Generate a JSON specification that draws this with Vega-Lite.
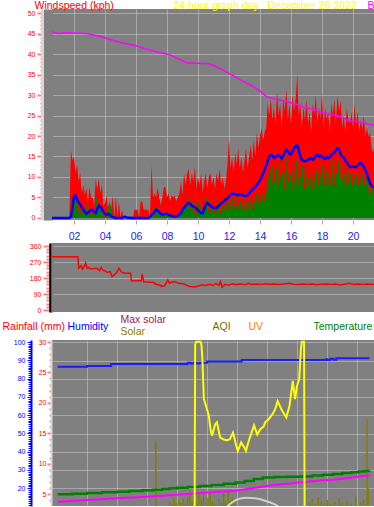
{
  "$schema": "https://vega.github.io/schema/vega-lite/v6.json",
  "padding": 0,
  "background": "#ffffff",
  "columns": 1,
  "align": "none",
  "spacing": 0,
  "config": {
    "view": {"fill": "#808080", "stroke": null},
    "font": "Liberation Sans",
    "axis": {"labelFont": "Liberation Sans", "titleFont": "Liberation Sans", "titleFontWeight": "normal", "labelFontSize": 7, "titleFontSize": 10.5, "gridDash": [1, 1], "gridColor": "#d0d0d0", "gridWidth": 1, "labelFlush": false, "labelOverlap": false, "labelBound": false}
  },
  "datasets": {
    "wind": [
      {"h":0.1,"g":0,"s":0,"a":0},{"h":1.7,"g":0,"s":0,"a":0},
      {"h":1.8,"g":16.5,"s":0,"a":0.3},{"h":1.9,"g":14,"s":5,"a":2.5},{"h":2.0,"g":15,"s":5,"a":5.2},{"h":2.1,"g":11,"s":4,"a":5.5},{"h":2.2,"g":13,"s":2,"a":4.5},{"h":2.3,"g":9,"s":1,"a":3.8},{"h":2.4,"g":11,"s":2,"a":3.3},{"h":2.5,"g":6,"s":1,"a":2.6},{"h":2.6,"g":8,"s":1,"a":2},{"h":2.7,"g":5.5,"s":3,"a":1.4},{"h":2.8,"g":7.5,"s":3,"a":1},{"h":2.9,"g":4,"s":1,"a":1.3},
      {"h":3.0,"g":7.5,"s":1,"a":1.6},{"h":3.1,"g":5,"s":0.5,"a":2},{"h":3.2,"g":5,"s":1,"a":2},{"h":3.3,"g":3,"s":1,"a":1.4},{"h":3.4,"g":9.5,"s":5,"a":1.2},{"h":3.5,"g":7,"s":3,"a":2.2},{"h":3.6,"g":9.5,"s":2,"a":3},{"h":3.7,"g":6,"s":2,"a":2.8},{"h":3.8,"g":8,"s":1,"a":2.2},{"h":3.9,"g":3,"s":0,"a":1.5},
      {"h":4.0,"g":3.5,"s":0.5,"a":1},{"h":4.1,"g":5.5,"s":1,"a":0.8},{"h":4.2,"g":2,"s":3,"a":1},{"h":4.3,"g":4,"s":3,"a":0.8},{"h":4.4,"g":2,"s":1,"a":0.4},{"h":4.5,"g":5.5,"s":0,"a":0.2},{"h":4.6,"g":0,"s":0,"a":0.1},{"h":4.7,"g":5.5,"s":0,"a":0},{"h":4.8,"g":0,"s":0,"a":0},{"h":4.9,"g":4,"s":0,"a":0},
      {"h":5.0,"g":0,"s":0,"a":0},{"h":5.1,"g":2,"s":0,"a":0},{"h":5.2,"g":0,"s":0,"a":0.2},{"h":5.3,"g":0,"s":0,"a":0.3},{"h":5.4,"g":0,"s":0,"a":0.1},{"h":5.8,"g":0,"s":0,"a":0},{"h":5.9,"g":2,"s":0,"a":0},{"h":6.1,"g":2,"s":0,"a":0},{"h":6.2,"g":0,"s":0,"a":0},{"h":6.3,"g":4,"s":0,"a":0},{"h":6.4,"g":4,"s":0,"a":0},{"h":6.5,"g":2,"s":0,"a":0},{"h":6.8,"g":2,"s":0,"a":0},{"h":6.9,"g":0,"s":0,"a":0.2},
      {"h":7.0,"g":13,"s":1,"a":0.8},{"h":7.1,"g":5,"s":0.5,"a":1},{"h":7.2,"g":6,"s":2.5,"a":1.5},{"h":7.3,"g":5,"s":2.5,"a":2},{"h":7.4,"g":7.5,"s":1,"a":1.8},{"h":7.5,"g":5,"s":0.5,"a":1.4},{"h":7.6,"g":3,"s":0.5,"a":1},{"h":7.7,"g":5,"s":1,"a":0.8},{"h":7.8,"g":7.5,"s":1,"a":0.9},{"h":7.9,"g":7.5,"s":0.5,"a":1},
      {"h":8.0,"g":5,"s":1,"a":1},{"h":8.1,"g":6,"s":0.5,"a":0.8},{"h":8.2,"g":4,"s":0.5,"a":0.6},{"h":8.3,"g":5.5,"s":0.5,"a":0.5},{"h":8.4,"g":5,"s":0,"a":0.4},{"h":8.5,"g":5.5,"s":0.5,"a":0.3},{"h":8.6,"g":4,"s":0.5,"a":0.4},{"h":8.7,"g":5,"s":1,"a":0.6},{"h":8.8,"g":6,"s":1,"a":0.9},{"h":8.9,"g":9,"s":2,"a":1.2},
      {"h":9.0,"g":5.5,"s":3,"a":2},{"h":9.1,"g":11,"s":2,"a":2.5},{"h":9.2,"g":8,"s":3,"a":3},{"h":9.3,"g":11,"s":5,"a":3.5},{"h":9.4,"g":12,"s":3,"a":3.6},{"h":9.5,"g":8,"s":2,"a":3.4},{"h":9.6,"g":11,"s":4,"a":3},{"h":9.7,"g":9,"s":1,"a":2.8},{"h":9.8,"g":12.5,"s":3,"a":2.6},{"h":9.9,"g":7,"s":1,"a":2.3},
      {"h":10.0,"g":10,"s":4,"a":1.9},{"h":10.1,"g":8,"s":2,"a":1.5},{"h":10.2,"g":11,"s":1,"a":1.2},{"h":10.3,"g":6,"s":3,"a":1.1},{"h":10.4,"g":9,"s":2,"a":2.2},{"h":10.5,"g":11,"s":5,"a":3.2},{"h":10.6,"g":7,"s":2,"a":3.6},{"h":10.7,"g":10,"s":1,"a":3.3},{"h":10.8,"g":11,"s":4,"a":3},{"h":10.9,"g":8,"s":2,"a":2.7},
      {"h":11.0,"g":10,"s":1,"a":2.5},{"h":11.1,"g":7,"s":3,"a":2.4},{"h":11.2,"g":11,"s":2,"a":2.4},{"h":11.3,"g":9,"s":4,"a":2.8},{"h":11.4,"g":12,"s":1,"a":3.2},{"h":11.5,"g":8,"s":3,"a":3.5},{"h":11.6,"g":10,"s":2,"a":3.8},{"h":11.7,"g":7,"s":5,"a":4.2},{"h":11.8,"g":9,"s":2,"a":4.5},{"h":11.9,"g":13,"s":4,"a":4.8},
      {"h":12.0,"g":19.5,"s":3,"a":5.2},{"h":12.1,"g":12,"s":2,"a":5.6},{"h":12.2,"g":15,"s":5,"a":5.9},{"h":12.3,"g":11,"s":3,"a":6},{"h":12.4,"g":16,"s":2,"a":5.8},{"h":12.5,"g":13,"s":6,"a":5.6},{"h":12.6,"g":17,"s":3,"a":5.6},{"h":12.7,"g":12,"s":4,"a":5.8},{"h":12.8,"g":15,"s":2,"a":5.7},{"h":12.9,"g":11,"s":5,"a":5.5},
      {"h":13.0,"g":14,"s":3,"a":5.4},{"h":13.1,"g":17,"s":2,"a":5.4},{"h":13.2,"g":12,"s":4,"a":5.5},{"h":13.3,"g":15,"s":3,"a":6},{"h":13.4,"g":18,"s":5,"a":6.5},{"h":13.5,"g":14,"s":2,"a":6.8},{"h":13.6,"g":19,"s":4,"a":7.2},{"h":13.7,"g":15,"s":6,"a":7.6},{"h":13.8,"g":21,"s":3,"a":8.1},{"h":13.9,"g":17,"s":5,"a":8.6},
      {"h":14.0,"g":20,"s":4,"a":9.2},{"h":14.1,"g":22,"s":6,"a":10},{"h":14.2,"g":19,"s":4,"a":10.9},{"h":14.3,"g":21,"s":5,"a":11.8},{"h":14.4,"g":22,"s":7,"a":12.8},{"h":14.5,"g":28,"s":10,"a":14},{"h":14.6,"g":25,"s":12,"a":15},{"h":14.7,"g":29,"s":8,"a":15.4},{"h":14.8,"g":24,"s":13,"a":15.2},{"h":14.9,"g":27,"s":9,"a":14.6},
      {"h":15.0,"g":23,"s":12,"a":14.8},{"h":15.1,"g":31,"s":8,"a":15.2},{"h":15.2,"g":25,"s":14,"a":15.4},{"h":15.3,"g":28,"s":10,"a":15},{"h":15.4,"g":22,"s":11,"a":14.5},{"h":15.5,"g":29,"s":7,"a":15.2},{"h":15.6,"g":26,"s":12,"a":16},{"h":15.7,"g":31.5,"s":15,"a":16.6},{"h":15.8,"g":24,"s":9,"a":16.3},{"h":15.9,"g":28,"s":11,"a":15.6},
      {"h":16.0,"g":23,"s":7,"a":15.5},{"h":16.1,"g":30,"s":12,"a":16.2},{"h":16.2,"g":26,"s":9,"a":17},{"h":16.3,"g":29,"s":14,"a":17.6},{"h":16.4,"g":35,"s":8,"a":17.8},{"h":16.5,"g":25,"s":11,"a":16.5},{"h":16.6,"g":28,"s":10,"a":15},{"h":16.7,"g":22,"s":13,"a":14.2},{"h":16.8,"g":27,"s":7,"a":14},{"h":16.9,"g":24,"s":10,"a":13.8},
      {"h":17.0,"g":29,"s":12,"a":14},{"h":17.1,"g":23,"s":8,"a":14.2},{"h":17.2,"g":26,"s":10,"a":14.4},{"h":17.3,"g":21,"s":7,"a":14.6},{"h":17.4,"g":28,"s":11,"a":14.2},{"h":17.5,"g":25,"s":9,"a":14.6},{"h":17.6,"g":30,"s":12,"a":15.2},{"h":17.7,"g":23,"s":8,"a":15.4},{"h":17.8,"g":27,"s":11,"a":15},{"h":17.9,"g":24,"s":10,"a":15.2},
      {"h":18.0,"g":30.5,"s":13,"a":15},{"h":18.1,"g":22,"s":8,"a":14.6},{"h":18.2,"g":27,"s":12,"a":14.4},{"h":18.3,"g":24,"s":9,"a":14.8},{"h":18.4,"g":26,"s":11,"a":14.6},{"h":18.5,"g":21,"s":8,"a":14.8},{"h":18.6,"g":28,"s":14,"a":15.4},{"h":18.7,"g":25,"s":10,"a":15.6},{"h":18.8,"g":29,"s":8,"a":16},{"h":18.9,"g":23,"s":11,"a":16.6},
      {"h":19.0,"g":30,"s":14,"a":17},{"h":19.1,"g":26,"s":10,"a":16.8},{"h":19.2,"g":28.8,"s":13,"a":15.6},{"h":19.3,"g":22,"s":9,"a":15},{"h":19.4,"g":25,"s":11,"a":14.8},{"h":19.5,"g":21,"s":8,"a":14},{"h":19.6,"g":27,"s":12,"a":13.6},{"h":19.7,"g":24,"s":9,"a":13},{"h":19.8,"g":23,"s":11,"a":12.5},{"h":19.9,"g":26,"s":8,"a":12.4},
      {"h":20.0,"g":22,"s":10,"a":12.6},{"h":20.1,"g":28,"s":9,"a":12.5},{"h":20.2,"g":23,"s":11,"a":12.4},{"h":20.3,"g":26,"s":8,"a":12.8},{"h":20.4,"g":21,"s":10,"a":13.2},{"h":20.5,"g":24,"s":9,"a":13.4},{"h":20.6,"g":21.5,"s":11,"a":13.2},{"h":20.7,"g":25,"s":8,"a":12.5},{"h":20.8,"g":20,"s":10,"a":11.6},{"h":20.9,"g":22,"s":7,"a":10.8},
      {"h":21.0,"g":19.8,"s":9,"a":9.5},{"h":21.1,"g":21,"s":6,"a":8.5},{"h":21.2,"g":17,"s":8,"a":7.8},{"h":21.3,"g":16,"s":6,"a":7.6},{"h":21.4,"g":18,"s":5,"a":7.5}
    ],
    "baro": [
      {"h":0.1,"b":45.8},{"h":1.0,"b":45.0},{"h":1.5,"b":45.2},{"h":2.8,"b":45.0},{"h":3.7,"b":44.3},{"h":4.3,"b":43.6},{"h":5.0,"b":42.8},{"h":5.8,"b":42.2},{"h":6.5,"b":41.4},{"h":7.5,"b":40.4},{"h":8.2,"b":39.8},{"h":8.8,"b":38.7},{"h":9.3,"b":37.8},{"h":10.6,"b":37.7},{"h":11.0,"b":37.2},{"h":11.4,"b":36.5},{"h":12.0,"b":35.3},{"h":12.6,"b":34.0},{"h":13.2,"b":32.8},{"h":13.6,"b":32.0},{"h":14.0,"b":31.0},{"h":14.45,"b":29.5},{"h":15.0,"b":29.0},{"h":15.7,"b":28.4},{"h":16.3,"b":27.8},{"h":16.8,"b":27.1},{"h":17.3,"b":26.6},{"h":17.8,"b":26.0},{"h":18.3,"b":25.5},{"h":18.9,"b":25.0},{"h":19.3,"b":24.6},{"h":19.6,"b":23.9},{"h":20.3,"b":23.5},{"h":20.9,"b":23.0},{"h":21.4,"b":22.6}
    ],
    "dir": [
      {"h":0.1,"d":300},{"h":1.8,"d":300},{"h":1.85,"d":235},{"h":2.0,"d":250},{"h":2.1,"d":230},{"h":2.2,"d":245},{"h":2.3,"d":265},{"h":2.4,"d":235},{"h":2.5,"d":240},{"h":2.6,"d":231},{"h":3.0,"d":235},{"h":3.2,"d":222},{"h":3.3,"d":240},{"h":3.4,"d":225},{"h":3.7,"d":212},{"h":3.9,"d":215},{"h":4.0,"d":188},{"h":4.1,"d":195},{"h":4.3,"d":210},{"h":4.45,"d":235},{"h":4.6,"d":215},{"h":4.8,"d":207},{"h":5.2,"d":207},{"h":5.25,"d":165},{"h":5.9,"d":165},{"h":5.95,"d":203},{"h":6.05,"d":159},{"h":6.7,"d":155},{"h":6.8,"d":146},{"h":7.1,"d":140},{"h":7.2,"d":133},{"h":7.4,"d":136},{"h":7.6,"d":170},{"h":7.7,"d":152},{"h":8.0,"d":160},{"h":8.3,"d":150},{"h":8.6,"d":148},{"h":8.8,"d":140},{"h":9.0,"d":133},{"h":9.3,"d":130},{"h":9.6,"d":135},{"h":9.8,"d":142},{"h":10.0,"d":138},{"h":10.3,"d":145},{"h":10.5,"d":138},{"h":10.7,"d":148},{"h":10.9,"d":140},{"h":11.0,"d":160},{"h":11.1,"d":128},{"h":11.3,"d":145},{"h":11.5,"d":140},{"h":11.8,"d":148},{"h":12.0,"d":143},{"h":12.3,"d":146},{"h":12.6,"d":142},{"h":12.8,"d":150},{"h":13.0,"d":144},{"h":13.3,"d":146},{"h":13.6,"d":143},{"h":13.9,"d":148},{"h":14.2,"d":145},{"h":14.5,"d":147},{"h":14.8,"d":143},{"h":15.1,"d":146},{"h":15.4,"d":150},{"h":15.7,"d":145},{"h":16.0,"d":143},{"h":16.3,"d":147},{"h":16.6,"d":144},{"h":16.9,"d":146},{"h":17.2,"d":142},{"h":17.5,"d":145},{"h":17.8,"d":147},{"h":18.1,"d":143},{"h":18.4,"d":146},{"h":18.7,"d":141},{"h":19.0,"d":145},{"h":19.3,"d":150},{"h":19.6,"d":144},{"h":19.9,"d":146},{"h":20.2,"d":143},{"h":20.5,"d":147},{"h":20.8,"d":144},{"h":21.0,"d":145}
    ],
    "hum": [
      {"h":0.05,"v":86.4},{"h":2.0,"v":86.9},{"h":3.6,"v":88.0},{"h":8.7,"v":88.7},{"h":8.9,"v":88.3},{"h":9.1,"v":88.7},{"h":9.3,"v":88.3},{"h":9.5,"v":88.7},{"h":10.0,"v":89.3},{"h":12.3,"v":90.2},{"h":17.9,"v":90.6},{"h":18.0,"v":90.2},{"h":18.2,"v":90.8},{"h":18.4,"v":90.3},{"h":18.6,"v":91.1},{"h":20.8,"v":91.1}
    ],
    "temp": [
      {"h":0.05,"v":4.95},{"h":1.0,"v":5.05},{"h":2.0,"v":5.17},{"h":3.0,"v":5.28},{"h":4.0,"v":5.38},{"h":4.8,"v":5.5},{"h":5.7,"v":5.6},{"h":6.4,"v":5.72},{"h":7.0,"v":5.82},{"h":7.5,"v":5.93},{"h":8.0,"v":6.04},{"h":8.7,"v":6.15},{"h":9.5,"v":6.3},{"h":10.3,"v":6.5},{"h":11.1,"v":6.7},{"h":11.9,"v":6.9},{"h":12.5,"v":7.15},{"h":13.1,"v":7.45},{"h":13.7,"v":7.73},{"h":14.5,"v":7.8},{"h":15.3,"v":7.85},{"h":16.2,"v":7.9},{"h":17.0,"v":8.05},{"h":17.7,"v":8.15},{"h":18.4,"v":8.28},{"h":19.0,"v":8.45},{"h":19.6,"v":8.6},{"h":20.1,"v":8.72},{"h":20.5,"v":8.8},{"h":20.8,"v":8.85}
    ],
    "dew": [
      {"h":0.05,"v":3.74},{"h":1.0,"v":3.85},{"h":2.0,"v":4.0},{"h":3.0,"v":4.15},{"h":4.0,"v":4.29},{"h":5.0,"v":4.42},{"h":5.9,"v":4.56},{"h":7.0,"v":4.72},{"h":8.0,"v":4.89},{"h":8.7,"v":5.0},{"h":9.5,"v":5.15},{"h":10.5,"v":5.35},{"h":11.9,"v":5.55},{"h":12.6,"v":5.8},{"h":13.4,"v":6.1},{"h":14.1,"v":6.37},{"h":14.9,"v":6.6},{"h":15.6,"v":6.75},{"h":16.2,"v":6.92},{"h":17.0,"v":7.1},{"h":17.7,"v":7.25},{"h":18.4,"v":7.35},{"h":19.2,"v":7.6},{"h":20.1,"v":7.9},{"h":20.8,"v":8.1}
    ],
    "uv": [
      {"h":0.05,"v":0},{"h":9.16,"v":0},{"h":9.2,"v":29.6},{"h":9.27,"v":30.05},{"h":9.55,"v":30.05},{"h":9.62,"v":29.5},{"h":9.68,"v":27.2},{"h":9.78,"v":20.6},{"h":9.99,"v":18.9},{"h":10.11,"v":17.9},{"h":10.22,"v":15.7},{"h":10.32,"v":14.6},{"h":10.54,"v":16.5},{"h":10.65,"v":16.8},{"h":10.86,"v":14.3},{"h":11.08,"v":14.0},{"h":11.29,"v":13.8},{"h":11.51,"v":14.0},{"h":11.72,"v":15.1},{"h":11.94,"v":12.9},{"h":12.04,"v":12.1},{"h":12.26,"v":13.5},{"h":12.47,"v":12.7},{"h":12.58,"v":12.1},{"h":12.8,"v":14.0},{"h":13.12,"v":16.3},{"h":13.33,"v":14.8},{"h":13.55,"v":15.7},{"h":13.76,"v":16.1},{"h":13.87,"v":16.8},{"h":14.09,"v":17.3},{"h":14.34,"v":18.1},{"h":14.52,"v":18.9},{"h":14.69,"v":20.3},{"h":14.95,"v":18.9},{"h":15.27,"v":17.6},{"h":15.48,"v":19.5},{"h":15.7,"v":23.6},{"h":15.85,"v":20.6},{"h":15.98,"v":22.8},{"h":16.13,"v":23.9},{"h":16.24,"v":28.8},{"h":16.3,"v":30.05},{"h":16.45,"v":30.05},{"h":16.49,"v":0},{"h":20.8,"v":0}
    ],
    "solar": [
      {"h":6.58,"v":13.75},{"h":7.5,"v":3.8},{"h":7.65,"v":3.3},{"h":7.8,"v":4.4},{"h":7.95,"v":3.5},{"h":8.1,"v":4.0},{"h":8.25,"v":3.6},{"h":8.4,"v":4.3},{"h":8.55,"v":3.4},{"h":8.7,"v":4.6},{"h":8.85,"v":5.5},{"h":9.0,"v":3.8},{"h":9.15,"v":4.8},{"h":9.3,"v":3.5},{"h":9.45,"v":5.0},{"h":9.6,"v":4.0},{"h":9.75,"v":5.2},{"h":9.9,"v":3.6},{"h":10.05,"v":4.4},{"h":10.2,"v":5.3},{"h":10.35,"v":3.8},{"h":10.5,"v":3.4},{"h":10.8,"v":4.2},{"h":10.95,"v":3.6},{"h":11.1,"v":5.0},{"h":11.25,"v":3.7},{"h":11.4,"v":5.6},{"h":11.55,"v":3.9},{"h":11.7,"v":4.4},{"h":11.85,"v":3.5},
      {"h":16.8,"v":3.6},{"h":17.0,"v":4.2},{"h":17.2,"v":3.4},{"h":17.4,"v":4.5},{"h":17.6,"v":3.8},{"h":17.8,"v":3.5},{"h":18.0,"v":4.0},{"h":18.2,"v":3.4},{"h":18.5,"v":3.7},{"h":18.8,"v":4.3},{"h":19.0,"v":3.5},{"h":19.3,"v":3.9},{"h":19.6,"v":3.4},{"h":19.9,"v":4.6},{"h":20.2,"v":3.6},{"h":20.4,"v":4.1},{"h":20.65,"v":17.3},{"h":20.72,"v":6.0}
    ],
    "maxsolar": [
      {"h":11.2,"v":2.6},{"h":11.5,"v":3.3},{"h":11.9,"v":4.0},{"h":12.3,"v":4.3},{"h":12.6,"v":4.4},{"h":13.2,"v":4.3},{"h":13.85,"v":3.9},{"h":14.5,"v":3.3},{"h":14.9,"v":2.7}
    ]
  },
  "concat": [
    {
      "width": 322,
      "height": 211,
      "resolve": {"axis": {"y": "independent"}},
      "encoding": {
        "x": {"field": "h", "type": "quantitative", "scale": {"domain": [0.5806, 21.355], "nice": false, "zero": false},
          "axis": {"orient": "bottom", "values": [2,4,6,8,10,12,14,16,18,20], "labelExpr": "datum.value < 10 ? '0' + datum.value : '' + datum.value", "labelColor": "#2020ff", "labelFontSize": 10.5, "labelPadding": 7, "tickColor": "#a8a8a8", "tickSize": 4, "domain": false, "grid": true,
            "title": "24 hour graph day : December 26 2022", "titleColor": "#ffff00", "titleX": 121, "titleY": -212, "titleAlign": "left", "titleBaseline": "alphabetic", "titleFontSize": 10.5}}
      },
      "layer": [
        {"data": {"name": "wind"}, "mark": {"type": "area", "color": "#ff0000", "clip": true},
          "encoding": {
            "y": {"field": "g", "type": "quantitative", "scale": {"domain": [-0.5, 51], "nice": false, "zero": false},
              "axis": {"orient": "left", "offset": 10, "values": [0,1,2,3,4,5,6,7,8,9,10,11,12,13,14,15,16,17,18,19,20,21,22,23,24,25,26,27,28,29,30,31,32,33,34,35,36,37,38,39,40,41,42,43,44,45,46,47,48,49,50],
                "labelExpr": "datum.value % 5 === 0 ? datum.label : ''", "labelColor": "#ff0000", "labelFontSize": 7, "labelPadding": 2, "labelOverlap": false,
                "tickColor": "#ff8080", "tickSize": {"condition": {"test": "datum.value % 5 === 0", "value": 5}, "value": 2}, "tickWidth": 2,
                "domainColor": "#d8d8d8", "domainWidth": 3, "grid": false,
                "title": "Windspeed (kph)", "titleColor": "#ff0000", "titleAngle": 0, "titleAlign": "left", "titleBaseline": "alphabetic", "titleX": -8, "titleY": -1, "titleFontSize": 10.5}},
            "y2": {"datum": 0}
          }},
        {"data": {"name": "wind"}, "mark": {"type": "area", "color": "#008000", "interpolate": "step-after", "clip": true},
          "encoding": {
            "y": {"field": "s", "type": "quantitative", "scale": {"domain": [-0.5, 51], "nice": false, "zero": false},
              "axis": {"orient": "left", "offset": 4, "values": [5,10,15,20,25,30,35,40,45,50], "labels": false, "ticks": false, "grid": true, "domainColor": "#808080", "domainWidth": 9, "title": null}},
            "y2": {"datum": 0}
          }},
        {"data": {"name": "wind"}, "mark": {"type": "line", "color": "#0000ff", "strokeWidth": 2.5, "clip": true},
          "encoding": {
            "y": {"field": "a", "type": "quantitative", "scale": {"domain": [-0.5, 51], "nice": false, "zero": false}, "axis": null}
          }},
        {"data": {"name": "baro"}, "mark": {"type": "line", "color": "#ff00ff", "strokeWidth": 1.5, "clip": true},
          "encoding": {
            "y": {"field": "b", "type": "quantitative", "scale": {"domain": [-0.5, 51], "nice": false, "zero": false},
              "axis": {"orient": "left", "labels": false, "ticks": false, "domain": false, "grid": false, "title": "B", "titleColor": "#ff00ff", "titleAngle": 0, "titleAlign": "left", "titleBaseline": "alphabetic", "titleX": 315, "titleY": -1, "titleFontSize": 10.5}}
          }}
      ]
    },
    {
      "width": 322,
      "height": 69,
      "resolve": {"axis": {"y": "independent"}},
      "encoding": {
        "x": {"field": "h", "type": "quantitative", "scale": {"domain": [0.129, 20.903], "nice": false, "zero": false}, "axis": null}
      },
      "layer": [
        {"data": {"name": "dir"}, "mark": {"type": "line", "color": "#ff0000", "strokeWidth": 1.5, "clip": true},
          "encoding": {
            "y": {"field": "d", "type": "quantitative", "scale": {"domain": [-11, 377], "nice": false, "zero": false},
              "axis": {"orient": "left", "offset": 2, "values": [0,18,36,54,72,90,108,126,144,162,180,198,216,234,252,270,288,306,324,342,360],
                "labelExpr": "datum.value % 90 === 0 ? datum.label : ''", "labelColor": "#ff0000", "labelFontSize": 7, "labelPadding": 2, "labelOverlap": false, "labelBound": false,
                "tickColor": "#ff8080", "tickSize": {"condition": {"test": "datum.value % 90 === 0", "value": 7}, "value": 4}, "tickWidth": 2,
                "domainColor": "#000000", "domainWidth": 2.5, "grid": false,
                "title": null}}
          }},
        {"data": {"values": [{}]}, "mark": {"type": "rule", "color": "#ff0000", "strokeWidth": 1.5},
          "encoding": {"y": {"datum": 0, "type": "quantitative", "scale": {"domain": [-11, 377], "nice": false, "zero": false},
            "axis": {"orient": "left", "offset": 0, "values": [90,180,270,360], "labels": false, "ticks": false, "domain": true, "domainColor": "#808080", "domainWidth": 2, "grid": true, "title": null}}}}
      ]
    },
    {
      "width": 322,
      "height": 166,
      "resolve": {"scale": {"y": "independent"}},
      "encoding": {
        "x": {"field": "h", "type": "quantitative", "scale": {"domain": [0, 20.774], "nice": false, "zero": false},
          "axis": {"orient": "top", "values": [2,4,6,8,10,12,14,16,18,20], "labels": false, "ticks": false, "domain": false, "grid": true, "title": "Temperature", "titleColor": "#008000", "titleX": 261, "titleY": -11, "titleAlign": "left", "titleBaseline": "alphabetic", "titleFontSize": 10.5}}
      },
      "layer": [
        {"data": {"name": "solar"}, "mark": {"type": "bar", "color": "#808000", "width": 1.5, "clip": true},
          "encoding": {
            "y": {"field": "v", "type": "quantitative", "scale": {"domain": [3.03, 30.33], "nice": false, "zero": false},
              "axis": {"orient": "left", "labels": false, "ticks": false, "domain": false, "grid": false, "title": "Solar", "titleColor": "#808000", "titleAngle": 0, "titleAlign": "left", "titleBaseline": "alphabetic", "titleX": 68, "titleY": -6, "titleFontSize": 10.5}},
            "y2": {"datum": 0}
          }},
        {"data": {"name": "maxsolar"}, "mark": {"type": "line", "color": "#d0d0d0", "strokeWidth": 2, "interpolate": "monotone", "clip": true},
          "encoding": {
            "y": {"field": "v", "type": "quantitative", "scale": {"domain": [3.03, 30.33], "nice": false, "zero": false},
              "axis": {"orient": "left", "labels": false, "ticks": false, "domain": false, "grid": false, "title": "Max solar", "titleColor": "#a0204a", "titleAngle": 0, "titleAlign": "left", "titleBaseline": "alphabetic", "titleX": 68, "titleY": -18, "titleFontSize": 10.5}}
          }},
        {"data": {"name": "hum"}, "mark": {"type": "line", "color": "#1c1cff", "strokeWidth": 2, "interpolate": "step-after", "clip": true},
          "encoding": {
            "y": {"field": "v", "type": "quantitative", "scale": {"domain": [10.3, 101.1], "nice": false, "zero": false},
              "axis": {"orient": "left", "offset": 21, "values": [11,12,13,14,15,16,17,18,19,20,21,22,23,24,25,26,27,28,29,30,31,32,33,34,35,36,37,38,39,40,41,42,43,44,45,46,47,48,49,50,51,52,53,54,55,56,57,58,59,60,61,62,63,64,65,66,67,68,69,70,71,72,73,74,75,76,77,78,79,80,81,82,83,84,85,86,87,88,89,90,91,92,93,94,95,96,97,98,99,100],
                "labelExpr": "datum.value % 10 === 0 ? datum.label : ''", "labelColor": "#0000ff", "labelFontSize": 7, "labelPadding": 2, "labelOverlap": false,
                "tickColor": "#0000ff", "tickSize": {"condition": {"test": "datum.value % 10 === 0", "value": 4}, "value": 3}, "tickWidth": 1,
                "domainColor": "#0000ff", "domainWidth": 2, "grid": false,
                "minExtent": 31, "maxExtent": 31,
                "title": "Humidity", "titleColor": "#0000ff", "titleAngle": 0, "titleAlign": "left", "titleBaseline": "alphabetic", "titleX": 36, "titleY": -11, "titleFontSize": 10.5}}
          }},
        {"data": {"name": "temp"}, "mark": {"type": "line", "color": "#008000", "strokeWidth": 2.5, "interpolate": "step-after", "clip": true},
          "encoding": {
            "y": {"field": "v", "type": "quantitative", "scale": {"domain": [3.03, 30.33], "nice": false, "zero": false},
              "axis": {"orient": "left", "offset": 1, "values": [4,5,6,7,8,9,10,11,12,13,14,15,16,17,18,19,20,21,22,23,24,25,26,27,28,29,30],
                "labelExpr": "datum.value % 5 === 0 ? datum.label : ''", "labelColor": "#ff0000", "labelFontSize": 7, "labelPadding": 1, "labelOverlap": false,
                "tickColor": "#ff8080", "tickSize": {"condition": {"test": "datum.value % 5 === 0", "value": 4}, "value": 2}, "tickWidth": 2,
                "domainColor": "#d8d8d8", "domainWidth": 2, "grid": false,
                "title": "Rainfall (mm)", "titleColor": "#ff0000", "titleAngle": 0, "titleAlign": "left", "titleBaseline": "alphabetic", "titleX": -49, "titleY": -11, "titleFontSize": 10.5}}
          }},
        {"data": {"name": "dew"}, "mark": {"type": "line", "color": "#ff00ff", "strokeWidth": 2, "clip": true},
          "encoding": {
            "y": {"field": "v", "type": "quantitative", "scale": {"domain": [3.03, 30.33], "nice": false, "zero": false},
              "axis": {"orient": "left", "values": [5.95, 8.95, 11.95, 14.95, 17.95, 20.95, 23.95, 26.95, 29.95], "labels": false, "ticks": false, "domain": false, "grid": true, "title": "UV", "titleColor": "#ff8000", "titleAngle": 0, "titleAlign": "left", "titleBaseline": "alphabetic", "titleX": 196, "titleY": -11, "titleFontSize": 10.5}}
          }},
        {"data": {"name": "uv"}, "mark": {"type": "line", "color": "#ffff00", "strokeWidth": 2, "clip": true},
          "encoding": {
            "y": {"field": "v", "type": "quantitative", "scale": {"domain": [3.03, 30.33], "nice": false, "zero": false},
              "axis": {"orient": "left", "labels": false, "ticks": false, "domain": false, "grid": false, "title": "AQI", "titleColor": "#707000", "titleAngle": 0, "titleAlign": "left", "titleBaseline": "alphabetic", "titleX": 160, "titleY": -11, "titleFontSize": 10.5}}
          }}
      ]
    }
  ]
}
